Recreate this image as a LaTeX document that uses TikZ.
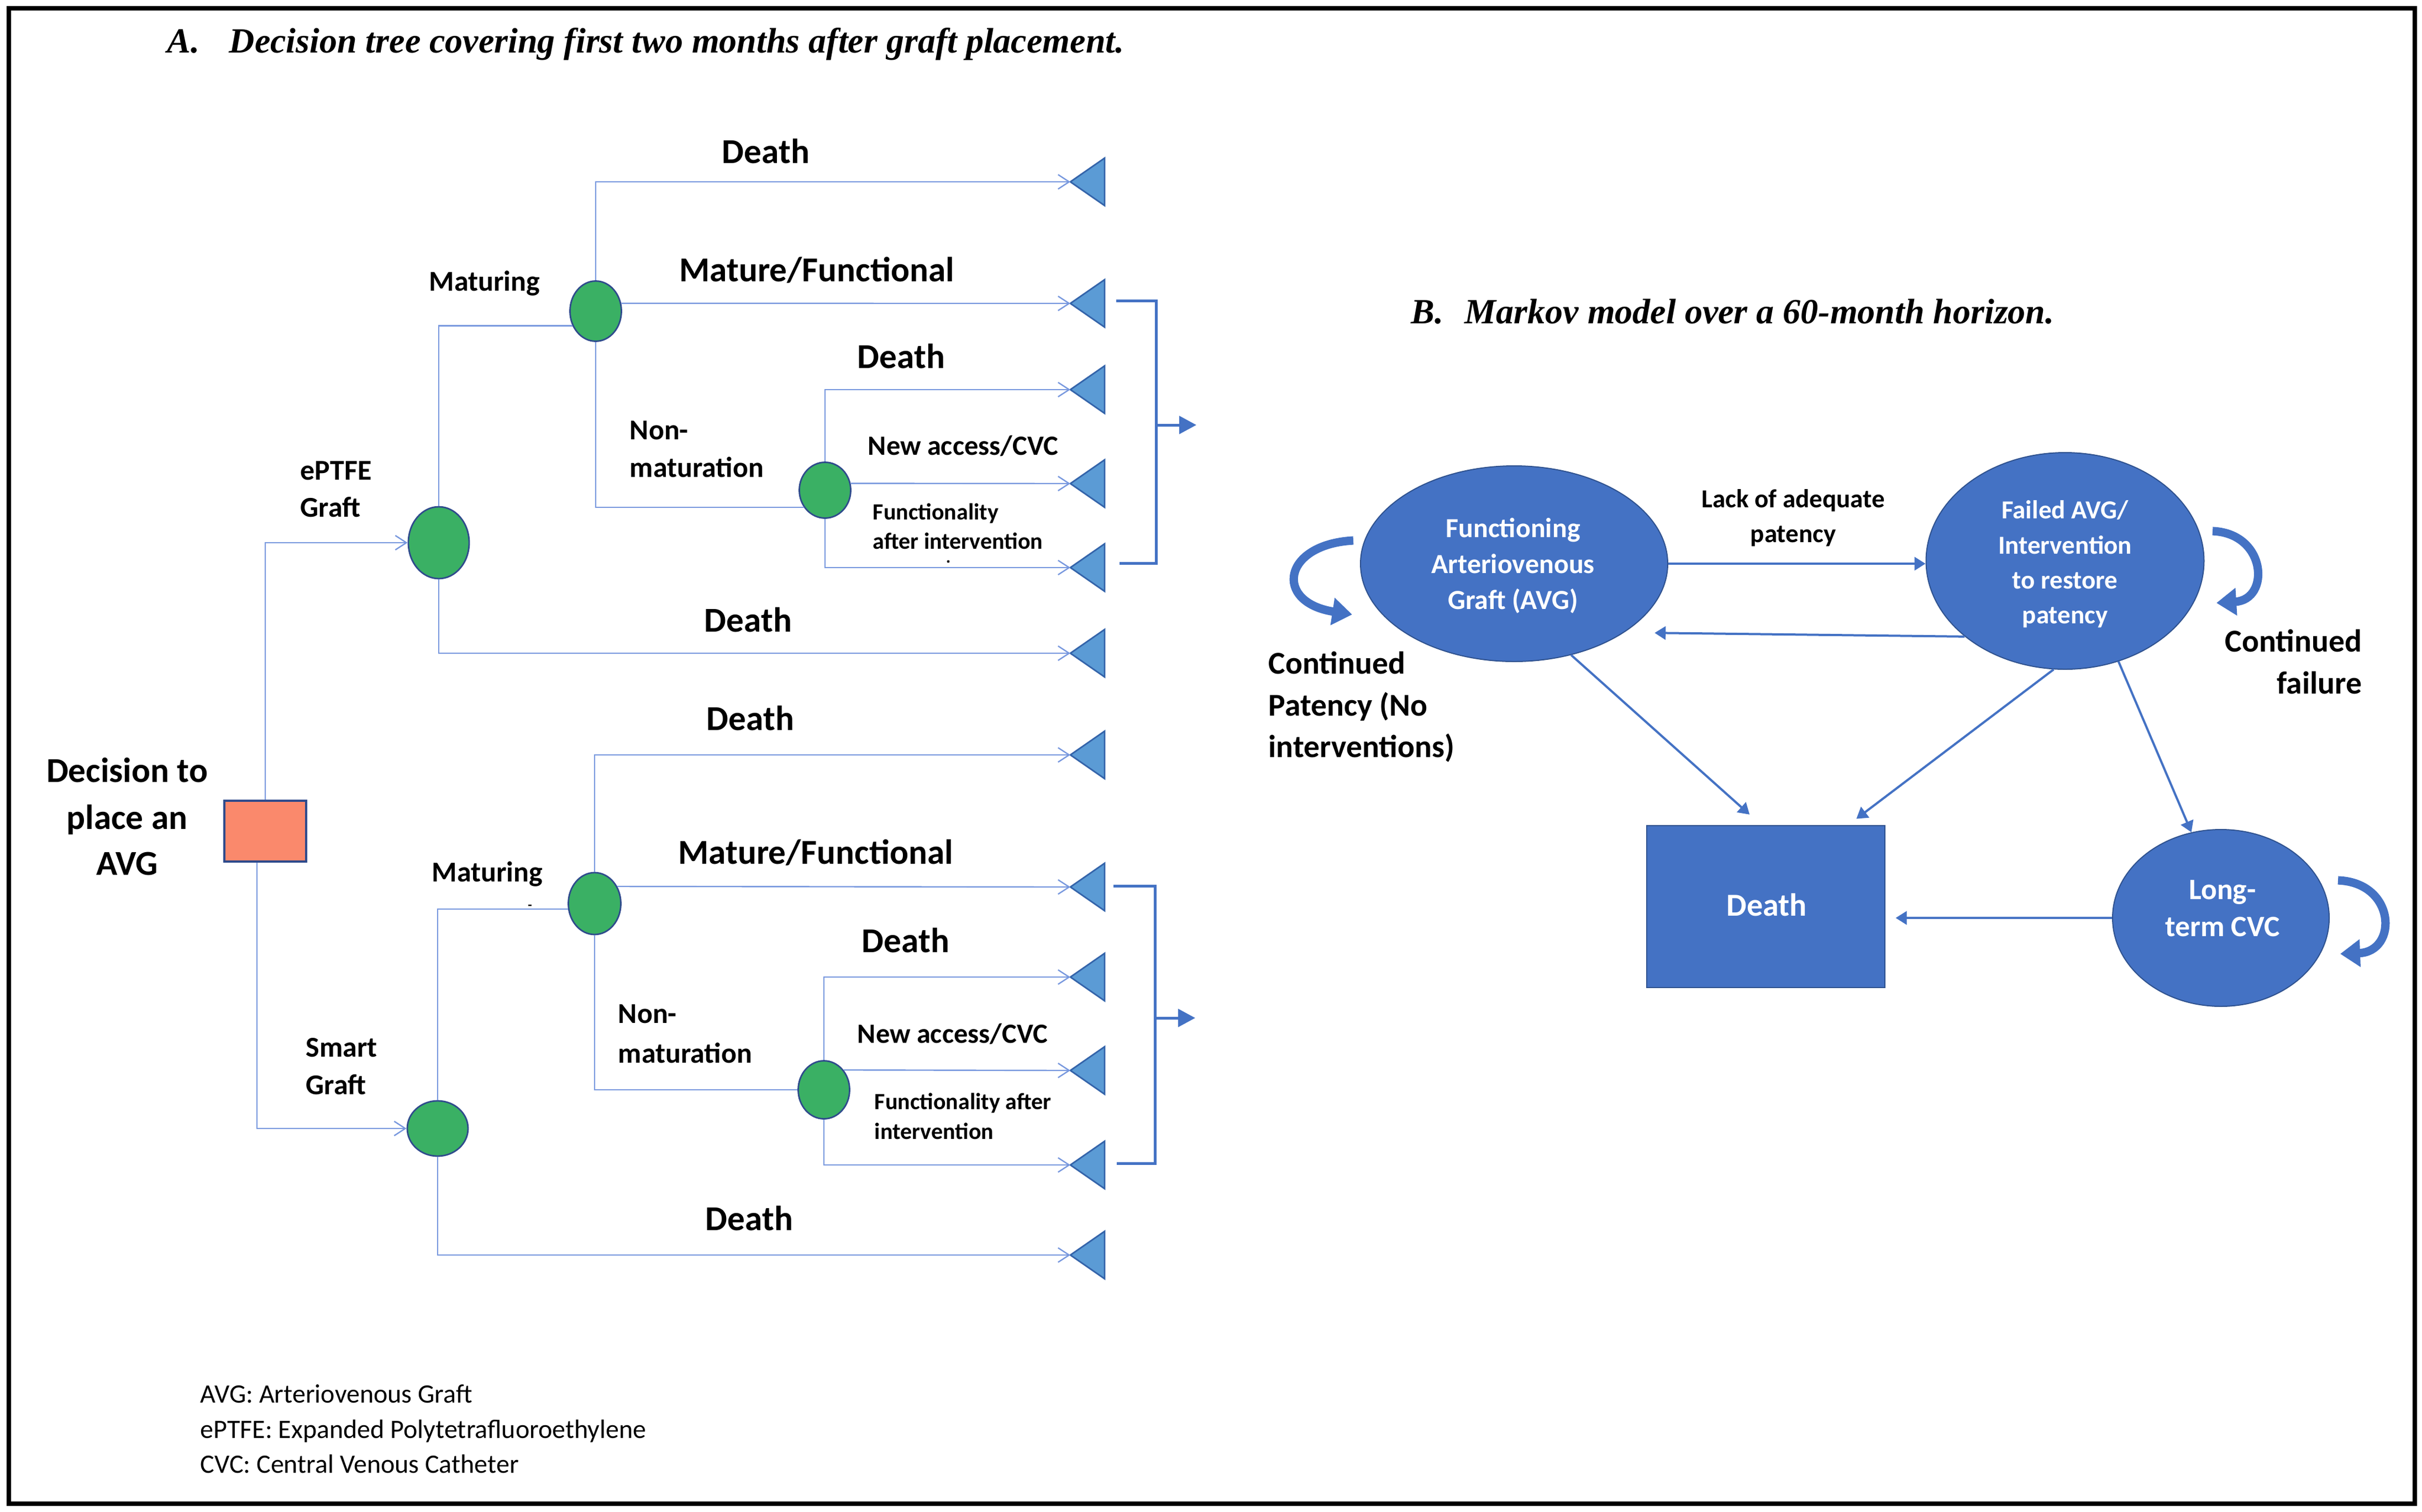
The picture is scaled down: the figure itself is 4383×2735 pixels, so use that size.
\documentclass[tikz,border=0pt]{standalone}
\usepackage{fontspec}
\setmainfont{Carlito}
\newfontfamily\ttlfont{Liberation Serif}
\usetikzlibrary{shapes.geometric,arrows.meta,calc}
\definecolor{treeblue}{RGB}{120,152,222}
\definecolor{trifill}{RGB}{91,155,213}
\definecolor{triedge}{RGB}{52,100,170}
\definecolor{nodegreen}{RGB}{58,176,100}
\definecolor{nodeedge}{RGB}{47,75,140}
\definecolor{salmon}{RGB}{250,137,108}
\definecolor{mkblue}{RGB}{68,114,196}
\definecolor{mkedge}{RGB}{47,82,143}
\begin{document}
\begin{tikzpicture}[x=0.25pt,y=-0.25pt,
  chance/.style={ellipse,draw=nodeedge,fill=nodegreen,line width=0.7pt,inner sep=0pt},
  decbox/.style={rectangle,draw=nodeedge,fill=salmon,line width=0.8pt,minimum width=37pt,minimum height=27.5pt,inner sep=0pt},
  tline/.style={draw=treeblue,line width=0.6pt},
  tarr/.style={tline,-{Straight Barb[length=5pt,width=6.5pt]}},
  tri/.style={fill=trifill,draw=triedge,line width=0.7pt,line join=miter},
  brk/.style={draw=mkblue,line width=1.25pt},
  bigl/.style={font=\bfseries\fontsize{15.8}{18}\selectfont,inner sep=0pt},
  midl/.style={font=\bfseries\fontsize{13}{15}\selectfont,inner sep=0pt},
  nal/.style={font=\bfseries\fontsize{12.6}{15}\selectfont,inner sep=0pt},
  fil/.style={font=\bfseries\fontsize{10.5}{12}\selectfont,inner sep=0pt},
  notel/.style={font=\fontsize{12}{14}\selectfont,inner sep=0pt},
  ttl/.style={font=\ttlfont\bfseries\itshape\fontsize{16}{19}\selectfont,inner sep=0pt},
  state/.style={ellipse,fill=mkblue,draw=mkedge,line width=0.5pt,inner sep=0pt},
  mkarr/.style={draw=mkblue,line width=1pt,-{Triangle[length=5pt,width=6pt]}},
  loopar/.style={draw=mkblue,line width=3.8pt,-{Triangle[length=9pt,width=12pt]}},
  wl/.style={text=white,inner sep=0pt},
  contl/.style={font=\bfseries\fontsize{14.4}{17}\selectfont,inner sep=0pt}
]
\useasboundingbox (0,0) rectangle (4383,2735);
\draw[line width=2pt] (16,15) rectangle (4370,2721);

% titles
\node[ttl,anchor=base west] (tA1) at (302,95) {A.};
\node[ttl,anchor=base west] (tA2) at (414,95) {Decision tree covering first two months after graft placement.};
\node[ttl,anchor=base west] (tB1) at (2553,585) {B.};
\node[ttl,anchor=base west] (tB2) at (2650,585) {Markov model over a 60-month horizon.};

% ---------------- decision tree ----------------
\node[decbox] (dec) at (480,1504) {};
\node[bigl,anchor=base] (decl1) at (230,1415) {Decision to};
\node[bigl,anchor=base] (decl2) at (230,1500) {place an};
\node[bigl,anchor=base] (decl3) at (230,1583) {AVG};

\node[chance,minimum width=27.5pt,minimum height=32.5pt] (ept) at (794,982) {};
\node[chance,minimum width=23.25pt,minimum height=27.25pt] (mat1) at (1078,563) {};
\node[chance,minimum width=23.25pt,minimum height=25.25pt] (nm1) at (1493,887) {};
\node[chance,minimum width=27.5pt,minimum height=25pt] (sma) at (792,2042) {};
\node[chance,minimum width=23.75pt,minimum height=28pt] (mat2) at (1076,1635) {};
\node[chance,minimum width=23.25pt,minimum height=26.25pt] (nm2) at (1491,1972) {};

% terminal triangles
\foreach \n/\yy in {t1a/329,t1b/549,t1c/705,t1d/875,t1e/1027,t1f/1182,t2a/1366,t2b/1605,t2c/1768,t2d/1937,t2e/2108,t2f/2271}{
  \coordinate (\n) at (1937,\yy);
  \draw[tri] (\n) -- ++(62,-43) -- ++(0,86) -- cycle;
}

% connectors
\draw[tarr] (dec.north) |- (ept.west);
\draw[tarr] ($(dec.south)+(-15,0)$) |- (sma.west);
\draw[tline] (ept.north) |- (mat1.212);
\draw[tarr] (ept.south) |- (t1f);
\draw[tarr] (mat1.north) |- (t1a);
\draw[tarr] (mat1.17) -- (t1b);
\draw[tline] (mat1.south) |- (nm1.219);
\draw[tarr] (nm1.north) |- (t1c);
\draw[tarr] (nm1.15) -- (t1d);
\draw[tarr] (nm1.south) |- (t1e);

\draw[tline] (sma.north) |- (mat2.192);
\draw[tarr] (sma.south) |- (t2f);
\draw[tarr] (mat2.north) |- (t2a);
\draw[tarr] (mat2.37) -- (t2b);
\draw[tline] (mat2.south) |- (nm2.west);
\draw[tarr] (nm2.north) |- (t2c);
\draw[tarr] (nm2.45) -- (t2d);
\draw[tarr] (nm2.south) |- (t2e);

% brackets
\coordinate (b1top) at (2020,544);
\coordinate (b1cor) at (2092,1019);
\coordinate (b1bot) at (2026,1019);
\coordinate (b1mid) at (2092,769);
\coordinate (b1out) at (2165,769);
\draw[brk] (b1top) -| (b1cor) -- (b1bot);
\draw[brk,-{Triangle[length=7.75pt,width=8pt]}] (b1mid) -- (b1out);
\coordinate (b2top) at (2015,1603);
\coordinate (b2cor) at (2090,2105);
\coordinate (b2bot) at (2021,2105);
\coordinate (b2mid) at (2090,1842);
\coordinate (b2out) at (2163,1842);
\draw[brk] (b2top) -| (b2cor) -- (b2bot);
\draw[brk,-{Triangle[length=7.75pt,width=8pt]}] (b2mid) -- (b2out);

% labels upper tree
\node[midl,anchor=base west] (lept1) at (543,868) {ePTFE};
\node[midl,anchor=base west] (lept2) at (543,935) {Graft};
\node[midl,anchor=base] (lmat1) at (877,526) {Maturing};
\node[bigl,anchor=base] (ld1a) at (1386,295) {Death};
\node[bigl,anchor=base] (lmf1) at (1478,509) {Mature/Functional};
\node[bigl,anchor=base] (ld1c) at (1631,666) {Death};
\node[midl,anchor=base west] (lnm1a) at (1139,795) {Non-};
\node[midl,anchor=base west] (lnm1b) at (1139,863) {maturation};
\node[nal,anchor=base west] (lna1) at (1570,823) {New access/CVC};
\node[fil,anchor=base west] (lfi1a) at (1579,940) {Functionality};
\node[fil,anchor=base west] (lfi1b) at (1579,993) {after intervention};
\fill (1716,1016) circle (0.6pt);
\node[bigl,anchor=base] (ld1f) at (1354,1143) {Death};

% labels lower tree
\node[midl,anchor=base west] (lsm1) at (553,1912) {Smart};
\node[midl,anchor=base west] (lsm2) at (553,1980) {Graft};
\node[midl,anchor=base] (lmat2) at (882,1595) {Maturing};
\node[font=\bfseries\fontsize{6}{7}\selectfont,inner sep=0pt,anchor=base] (ldash) at (959,1645) {-};
\node[bigl,anchor=base] (ld2a) at (1358,1321) {Death};
\node[bigl,anchor=base] (lmf2) at (1476,1563) {Mature/Functional};
\node[bigl,anchor=base] (ld2c) at (1639,1723) {Death};
\node[midl,anchor=base west] (lnm2a) at (1118,1851) {Non-};
\node[midl,anchor=base west] (lnm2b) at (1118,1923) {maturation};
\node[nal,anchor=base west] (lna2) at (1551,1887) {New access/CVC};
\node[fil,anchor=base west] (lfi2a) at (1582,2007) {Functionality after};
\node[fil,anchor=base west] (lfi2b) at (1582,2061) {intervention};
\node[bigl,anchor=base] (ld2f) at (1356,2226) {Death};

% footnotes
\node[notel,anchor=base west] (fn1) at (362,2538) {AVG: Arteriovenous Graft};
\node[notel,anchor=base west] (fn2) at (362,2602) {ePTFE: Expanded Polytetrafluoroethylene};
\node[notel,anchor=base west] (fn3) at (362,2665) {CVC: Central Venous Catheter};

% ---------------- Markov model ----------------
\node[state,minimum width=139pt,minimum height=88.5pt] (fun) at (2740,1020) {};
\node[state,minimum width=125.75pt,minimum height=98pt] (fail) at (3737,1015) {};
\node[state,minimum width=98pt,minimum height=80pt] (ltc) at (4019,1661) {};
\node[rectangle,fill=mkblue,draw=mkedge,line width=0.5pt,minimum width=107.75pt,minimum height=73.25pt,inner sep=0pt] (death) at (3195,1640) {};

\begin{scope}[every node/.append style={wl,font=\bfseries\fontsize{12.5}{15}\selectfont,anchor=base}]
\node (fun1) at (2738,972) {Functioning};
\node (fun2) at (2738,1037) {Arteriovenous};
\node (fun3) at (2738,1102) {Graft (AVG)};
\end{scope}
\begin{scope}[every node/.append style={wl,font=\bfseries\fontsize{11.75}{14}\selectfont,anchor=base}]
\node (fail1) at (3737,938) {Failed AVG/};
\node (fail2) at (3737,1002) {Intervention};
\node (fail3) at (3737,1065) {to restore};
\node (fail4) at (3737,1128) {patency};
\end{scope}
\begin{scope}[every node/.append style={wl,font=\bfseries\fontsize{13.4}{16}\selectfont,anchor=base}]
\node (ltc1) at (4022,1627) {Long-};
\node (ltc2) at (4022,1694) {term CVC};
\end{scope}
\node[wl,font=\bfseries\fontsize{14.5}{17}\selectfont,anchor=base] (dth) at (3197,1657) {Death};

\node[font=\bfseries\fontsize{11.75}{14}\selectfont,inner sep=0pt,anchor=base] (lack1) at (3245,918) {Lack of adequate};
\node[font=\bfseries\fontsize{11.75}{14}\selectfont,inner sep=0pt,anchor=base] (lack2) at (3245,981) {patency};
\node[contl,anchor=base west] (cp1) at (2295,1219) {Continued};
\node[contl,anchor=base west] (cp2) at (2295,1295) {Patency (No};
\node[contl,anchor=base west] (cp3) at (2295,1370) {interventions)};
\node[contl,anchor=base east] (cf1) at (4275,1179) {Continued};
\node[contl,anchor=base east] (cf2) at (4275,1255) {failure};

% transitions
\draw[mkarr] (fun.east) -- (fun.east -| fail.west);
\draw[mkarr,shorten >=13.75pt] (fail.217) -- (fun.-32);
\draw[mkarr,shorten >=7pt] (fun.-58) -- ($(death.north)+(-8,0)$);
\draw[mkarr,shorten >=4.5pt] (fail.264) -- ($(death.north)+(150,0)$);
\draw[mkarr] (fail.-62) -- (ltc.109);
\draw[mkarr,shorten >=4.75pt] (ltc.west) -- (ltc.west -| death.east);

% self loops
\coordinate (lpa1) at (2449,978);
\coordinate (lpa2) at (2447,1112);
\draw[loopar] (lpa1) .. controls (2320,985) and (2305,1090) .. (lpa2);
\coordinate (lpb1) at (4004,961);
\coordinate (lpb2) at (4011,1091);
\draw[loopar] (lpb1) .. controls (4102,965) and (4109,1085) .. (lpb2);
\coordinate (lpc1) at (4231,1593);
\coordinate (lpc2) at (4235,1726);
\draw[loopar] (lpc1) .. controls (4336,1597) and (4340,1722) .. (lpc2);
\end{tikzpicture}
\end{document}
